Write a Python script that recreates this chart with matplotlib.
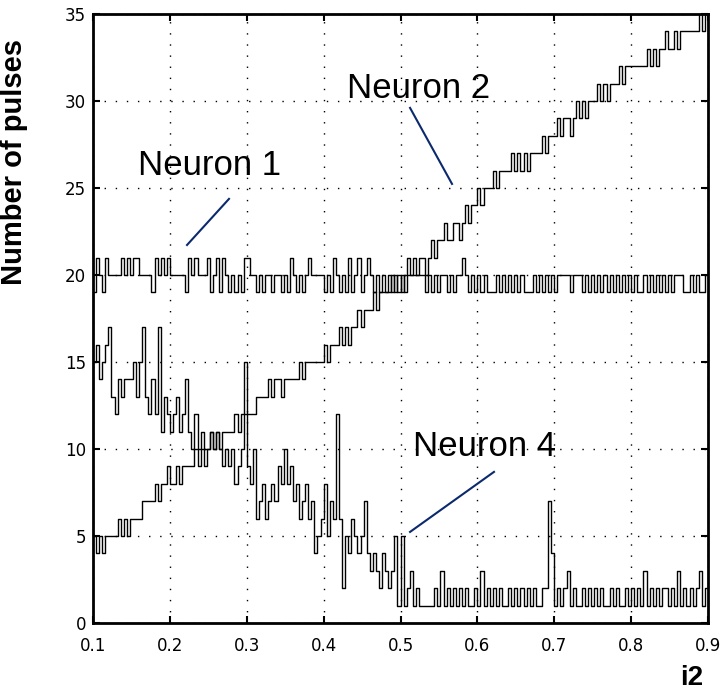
import numpy as np
import matplotlib
matplotlib.use('Agg')
import matplotlib.pyplot as plt

# sample grid of the input current i2
x = np.linspace(0.1, 0.9, 201)

neuron1 = [19, 21, 20, 19, 21, 20, 20, 20, 20, 21,
           20, 21, 20, 21, 21, 20, 20, 20, 20, 19,
           21, 20, 21, 20, 21, 20, 20, 20, 20, 20,
           19, 21, 20, 21, 20, 20, 20, 21, 19, 20,
           21, 19, 21, 20, 19, 20, 19, 20, 19, 21,
           21, 20, 20, 19, 20, 19, 20, 20, 19, 20,
           20, 19, 20, 19, 21, 20, 19, 20, 19, 20,
           21, 20, 20, 20, 20, 19, 20, 19, 21, 20,
           19, 20, 19, 21, 19, 20, 21, 19, 20, 21,
           20, 19, 20, 19, 20, 19, 19, 20, 19, 20,
           19, 20, 21, 20, 20, 20, 20, 20, 19, 20,
           19, 20, 19, 20, 20, 19, 20, 19, 20, 20,
           21, 20, 19, 20, 19, 20, 19, 20, 19, 19,
           19, 20, 19, 20, 19, 20, 19, 20, 19, 20,
           19, 19, 19, 20, 19, 20, 19, 20, 19, 20,
           19, 20, 20, 20, 20, 19, 20, 20, 20, 19,
           20, 19, 20, 19, 20, 19, 20, 19, 20, 19,
           20, 19, 20, 19, 20, 19, 20, 19, 19, 20,
           19, 20, 19, 20, 19, 20, 19, 20, 19, 20,
           20, 20, 19, 19, 20, 19, 20, 19, 19, 20,
           20]

neuron2 = [5, 4, 5, 4, 5, 5, 5, 5, 6, 5,
           6, 5, 6, 6, 6, 6, 7, 7, 7, 7,
           8, 7, 8, 8, 9, 8, 8, 9, 8, 9,
           9, 9, 9, 10, 9, 10, 10, 10, 11, 10,
           11, 10, 11, 11, 11, 11, 12, 11, 12, 12,
           12, 12, 12, 13, 13, 13, 13, 14, 13, 14,
           14, 13, 14, 14, 14, 14, 14, 15, 14, 15,
           15, 15, 15, 15, 15, 16, 15, 16, 16, 16,
           17, 16, 17, 16, 17, 17, 18, 17, 18, 18,
           18, 19, 18, 19, 19, 19, 20, 19, 20, 19,
           20, 19, 20, 20, 21, 20, 21, 21, 20, 21,
           22, 21, 22, 22, 23, 22, 22, 23, 23, 22,
           23, 24, 23, 24, 24, 25, 24, 25, 25, 25,
           26, 25, 26, 26, 26, 26, 27, 26, 27, 26,
           27, 26, 27, 27, 27, 27, 28, 27, 28, 28,
           28, 29, 28, 29, 29, 28, 29, 30, 29, 30,
           29, 30, 30, 30, 31, 30, 31, 30, 31, 31,
           31, 32, 31, 32, 32, 32, 32, 32, 32, 32,
           33, 32, 33, 32, 33, 33, 34, 33, 33, 34,
           33, 34, 34, 34, 34, 34, 34, 35, 34, 35,
           34]

neuron4 = [15, 16, 14, 15, 16, 17, 13, 12, 14, 13,
           14, 14, 14, 15, 13, 15, 17, 13, 12, 14,
           12, 17, 11, 13, 12, 11, 12, 13, 11, 12,
           14, 11, 10, 12, 10, 11, 9, 10, 11, 10,
           11, 10, 9, 10, 9, 10, 8, 9, 10, 15,
           9, 8, 10, 6, 7, 8, 6, 7, 8, 7,
           9, 8, 10, 8, 9, 7, 8, 6, 7, 8,
           6, 7, 4, 5, 6, 8, 5, 7, 6, 12,
           6, 2, 5, 4, 6, 5, 4, 5, 7, 4,
           3, 4, 3, 2, 4, 3, 2, 3, 5, 1,
           5, 1, 2, 3, 1, 2, 1, 1, 1, 1,
           1, 2, 1, 3, 1, 2, 1, 2, 1, 2,
           1, 2, 1, 1, 2, 1, 3, 1, 2, 1,
           2, 1, 2, 1, 1, 2, 1, 2, 1, 2,
           1, 2, 1, 2, 1, 1, 2, 2, 7, 4,
           1, 2, 1, 2, 3, 1, 2, 1, 1, 2,
           1, 2, 1, 2, 1, 2, 1, 1, 2, 1,
           2, 1, 1, 2, 1, 2, 1, 2, 1, 3,
           1, 2, 1, 2, 1, 2, 2, 1, 2, 1,
           3, 1, 2, 1, 2, 1, 2, 3, 1, 2,
           2]

xticks = [0.1, 0.2, 0.3, 0.4, 0.5, 0.6, 0.7, 0.8, 0.9]
yticks = [0, 5, 10, 15, 20, 25, 30, 35]

# (label, text anchor, pointer line start, pointer line end)
labels = [("Neuron 1", (0.1585, 25.75), (0.2223, 21.72), (0.2769, 24.37)),
          ("Neuron 2", (0.430, 30.17), (0.5124, 29.6), (0.567, 25.23)),
          ("Neuron 4", (0.516, 9.6), (0.5124, 5.23), (0.6216, 8.68))]

fig = plt.figure(figsize=(7.21, 6.96), dpi=100)
ax = fig.add_axes([0.129, 0.105, 0.853, 0.875])

for n in (neuron1, neuron2, neuron4):
    ax.step(x, n, where='post', color='black', lw=1)

ax.set_xlim(0.1, 0.9)
ax.set_ylim(0, 35)
ax.set_xticks(xticks)
ax.set_yticks(yticks)
ax.set_xticklabels([f"{t:.1f}" for t in xticks])
ax.grid(True, color='black', linestyle=(0, (1, 7)), lw=1)

tick_font = ['Liberation Sans Narrow', 'DejaVu Sans']
for lab in ax.get_xticklabels() + ax.get_yticklabels():
    lab.set_family(tick_font)
    lab.set_fontsize(12)
ax.tick_params(direction='in', top=True, right=True, length=5, width=1.5)
ax.tick_params(axis='x', pad=10)
ax.tick_params(axis='y', pad=5)
for s in ax.spines.values():
    s.set_linewidth(2)

for text, pos, p0, p1 in labels:
    ax.text(pos[0], pos[1], text, fontsize=25, family='Liberation Sans',
            ha='left', va='baseline')
    ax.plot([p0[0], p1[0]], [p0[1], p1[1]], color='#0b2a6e', lw=1.5)

fig.text(14 / 721, 1 - 162 / 696, "Number of pulses", rotation=90,
         fontsize=21, fontweight='bold', family='Liberation Sans',
         ha='center', va='center')
fig.text(692 / 721, 1 - 678 / 696, "i2", fontsize=20, fontweight='bold',
         family='Liberation Sans', ha='center', va='center')

fig.savefig('out.png', dpi=100)
